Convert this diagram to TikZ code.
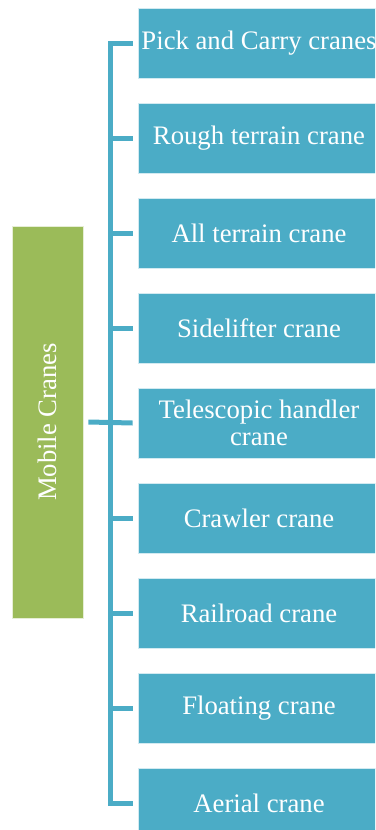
\documentclass[tikz,border=0pt]{standalone}
\usepackage{fontspec}
\setmainfont{Liberation Serif}
\definecolor{cyanbox}{HTML}{4BACC6}
\definecolor{greenbox}{HTML}{9BBB59}
\begin{document}
\begin{tikzpicture}[x=1pt,y=-1pt,
  item/.style={fill=cyanbox, draw=white!75!cyanbox, line width=0.8pt,
    minimum width=242pt, minimum height=70pt, inner sep=2pt,
    text=white, align=center, font=\fontsize{26.7}{27}\selectfont},
  root/.style={fill=greenbox, draw=white!75!greenbox, line width=0.8pt,
    minimum width=392pt, minimum height=71pt, inner sep=2pt,
    text=white, rotate=90, font=\fontsize{26.7}{27}\selectfont},
  conn/.style={draw=cyanbox, line width=5pt, line join=miter}]
\useasboundingbox (0,0) rectangle (375,830);
\clip (0,0) rectangle (375,830);

% category
\node[root] (g) at (47.5,422) {Mobile Cranes};

% crane types
\node[item] (b1) at (259,43)  {Pick and Carry cranes};
\node[item] (b2) at (259,138) {Rough terrain crane};
\node[item] (b3) at (259,233) {All terrain crane};
\node[item] (b4) at (259,328) {Sidelifter crane};
\node[item] (b5) at (259,423) {Telescopic handler\\crane};
\node[item] (b6) at (259,518) {Crawler crane};
\node[item] (b7) at (259,613) {Railroad crane};
\node[item] (b8) at (259,708) {Floating crane};
\node[item] (b9) at (259,803) {Aerial crane};

% bracket
\coordinate (trunk) at (110.5,0);
\draw[conn] ([xshift=-5pt]b1.west) -- (trunk|-b1.west) -- (trunk|-b9.west) -- ([xshift=-5pt]b9.west);
\foreach \n in {b2,b3,b4,b6,b7,b8}
  \draw[conn] (trunk|-\n.west) -- ([xshift=-5pt]\n.west);
\draw[conn] ([xshift=5pt]g.south) -- ([xshift=-5pt]b5.west);
\end{tikzpicture}
\end{document}
